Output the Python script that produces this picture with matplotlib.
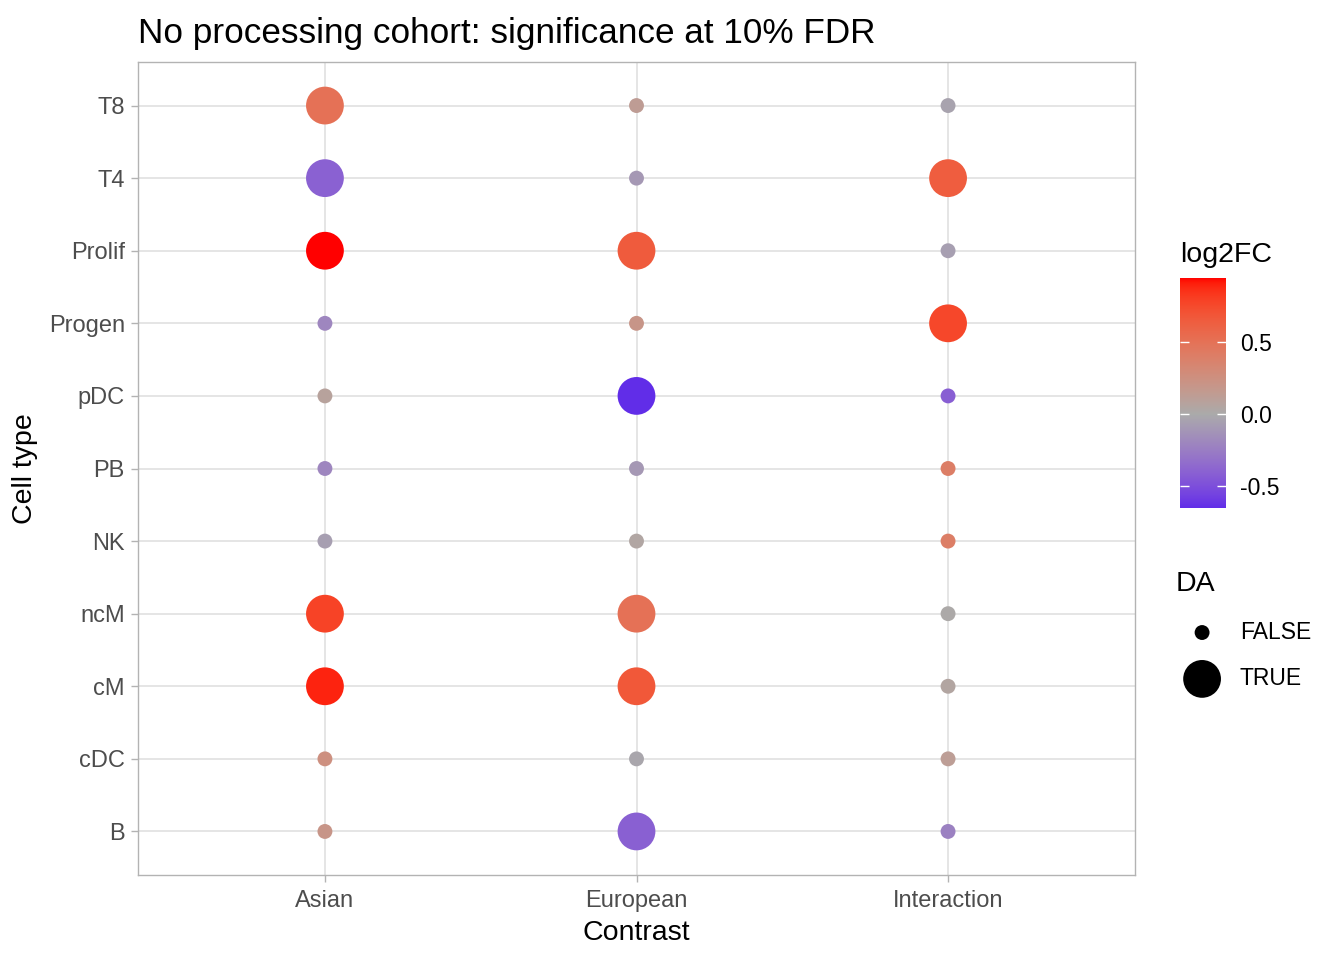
import numpy as np
import matplotlib
matplotlib.use('Agg')
import matplotlib.pyplot as plt
from matplotlib.colors import ListedColormap, Normalize, to_rgb
from matplotlib.cm import ScalarMappable

plt.rcParams['font.family'] = ['Liberation Sans', 'DejaVu Sans']

# data
cell_types = ['B', 'cDC', 'cM', 'ncM', 'NK', 'PB', 'pDC', 'Progen', 'Prolif', 'T4', 'T8']
contrasts = ['Asian', 'European', 'Interaction']

log2fc_asian = [0.20, 0.25, 0.89, 0.78, -0.06, -0.20, 0.08, -0.20, 0.94, -0.40, 0.50]
log2fc_european = [-0.41, -0.02, 0.67, 0.50, 0.04, -0.10, -0.65, 0.20, 0.65, -0.10, 0.13]
log2fc_interaction = [-0.23, 0.12, 0.05, 0.01, 0.40, 0.40, -0.42, 0.76, -0.06, 0.64, -0.04]

da_asian = [False, False, True, True, False, False, False, False, True, True, True]
da_european = [True, False, True, True, False, False, True, False, True, False, False]
da_interaction = [False, False, False, False, False, False, False, True, False, True, False]


# colour ramp interpolated in CIELAB, like ggplot's gradient2
def to_lab(rgb):
    c = np.array(rgb, dtype=float)
    c = np.where(c <= 0.04045, c / 12.92, ((c + 0.055) / 1.055) ** 2.4)
    m = np.array([[0.4124, 0.3576, 0.1805],
                  [0.2126, 0.7152, 0.0722],
                  [0.0193, 0.1192, 0.9505]])
    xyz = m @ c / np.array([0.95047, 1.0, 1.08883])
    f = np.where(xyz > 0.008856, np.cbrt(xyz), 7.787 * xyz + 16 / 116)
    return np.array([116 * f[1] - 16, 500 * (f[0] - f[1]), 200 * (f[1] - f[2])])


def from_lab(lab):
    fy = (lab[0] + 16) / 116
    fx = fy + lab[1] / 500
    fz = fy - lab[2] / 200
    f = np.array([fx, fy, fz])
    xyz = np.where(f ** 3 > 0.008856, f ** 3, (f - 16 / 116) / 7.787)
    xyz = xyz * np.array([0.95047, 1.0, 1.08883])
    m = np.array([[3.2406, -1.5372, -0.4986],
                  [-0.9689, 1.8758, 0.0415],
                  [0.0557, -0.2040, 1.0570]])
    c = m @ xyz
    c = np.where(c <= 0.0031308, 12.92 * c, 1.055 * np.clip(c, 0, None) ** (1 / 2.4) - 0.055)
    return np.clip(c, 0, 1)


vmin, vmax = -0.65, 0.94
low, mid, high = to_lab(to_rgb('#612DE8')), to_lab(to_rgb('#AAAAAA')), to_lab(to_rgb('#FF0000'))
cols = []
for v in np.linspace(vmin, vmax, 512):
    if v < 0:
        f = v / vmin
        cols.append(from_lab(mid + f * (low - mid)))
    else:
        f = v / vmax
        cols.append(from_lab(mid + f * (high - mid)))
cmap = ListedColormap(cols)
norm = Normalize(vmin, vmax)

fig = plt.figure(figsize=(13.44, 9.6), dpi=100)
ax = fig.add_axes([138 / 1344, 1 - 875 / 960, (1135 - 138) / 1344, (875 - 62) / 960])

s_small, s_big = 115, 740
for i, (vals, das) in enumerate([(log2fc_asian, da_asian),
                                 (log2fc_european, da_european),
                                 (log2fc_interaction, da_interaction)]):
    sizes = [s_big if d else s_small for d in das]
    ax.scatter([i] * len(cell_types), range(len(cell_types)), c=vals, s=sizes,
               cmap=cmap, norm=norm, edgecolors='none', zorder=3)

ax.set_xlim(-0.6, 2.6)
ax.set_ylim(-0.6, 10.6)
ax.set_xticks(range(len(contrasts)))
ax.set_xticklabels(contrasts)
ax.set_yticks(range(len(cell_types)))
ax.set_yticklabels(cell_types)
ax.grid(True, color='#DEDEDE', linewidth=1.1, zorder=0)
ax.set_axisbelow(True)
for sp in ax.spines.values():
    sp.set_color('#B3B3B3')
    sp.set_linewidth(1.0)
ax.tick_params(colors='#B3B3B3', labelcolor='#4D4D4D', labelsize=17, length=5, width=1.0)
ax.tick_params(axis='y', pad=4.5)
ax.tick_params(axis='x', pad=5.5)
ax.set_xlabel('Contrast', fontsize=20.5, labelpad=6)
ax.set_ylabel('Cell type', fontsize=20.5, labelpad=8)
ax.set_title('No processing cohort: significance at 10% FDR', fontsize=25.3, loc='left', pad=14)

# colour bar
cax = fig.add_axes([1180 / 1344, 1 - 508 / 960, 46 / 1344, 230 / 960])
cb = fig.colorbar(ScalarMappable(norm=norm, cmap=cmap), cax=cax)
cb.outline.set_visible(False)
cb.set_ticks([-0.5, 0.0, 0.5])
cb.set_ticklabels(['-0.5', '0.0', '0.5'])
cax.yaxis.set_ticks_position('both')
cax.tick_params(direction='in', color='white', length=6.5, width=1.0,
                labelsize=16.5, labelcolor='black', pad=10, labelleft=False, labelright=True)
fig.text(1180 / 1344, 1 - 262 / 960, 'log2FC', fontsize=20.5, va='baseline')

# size legend
h_false = ax.scatter([], [], s=s_small, c='black', edgecolors='none')
h_true = ax.scatter([], [], s=s_big, c='black', edgecolors='none')
leg = fig.legend([h_false, h_true], ['FALSE', 'TRUE'], title='DA', loc='upper left',
                 bbox_to_anchor=(1170 / 1344, 1 - 562 / 960), frameon=False,
                 fontsize=16.5, title_fontsize=20.5, alignment='left',
                 labelspacing=1.02, handletextpad=0.65, borderaxespad=0, scatterpoints=1)
leg.get_title().set_position((-4, 0))

fig.savefig('out.png', dpi=100, facecolor='white')
